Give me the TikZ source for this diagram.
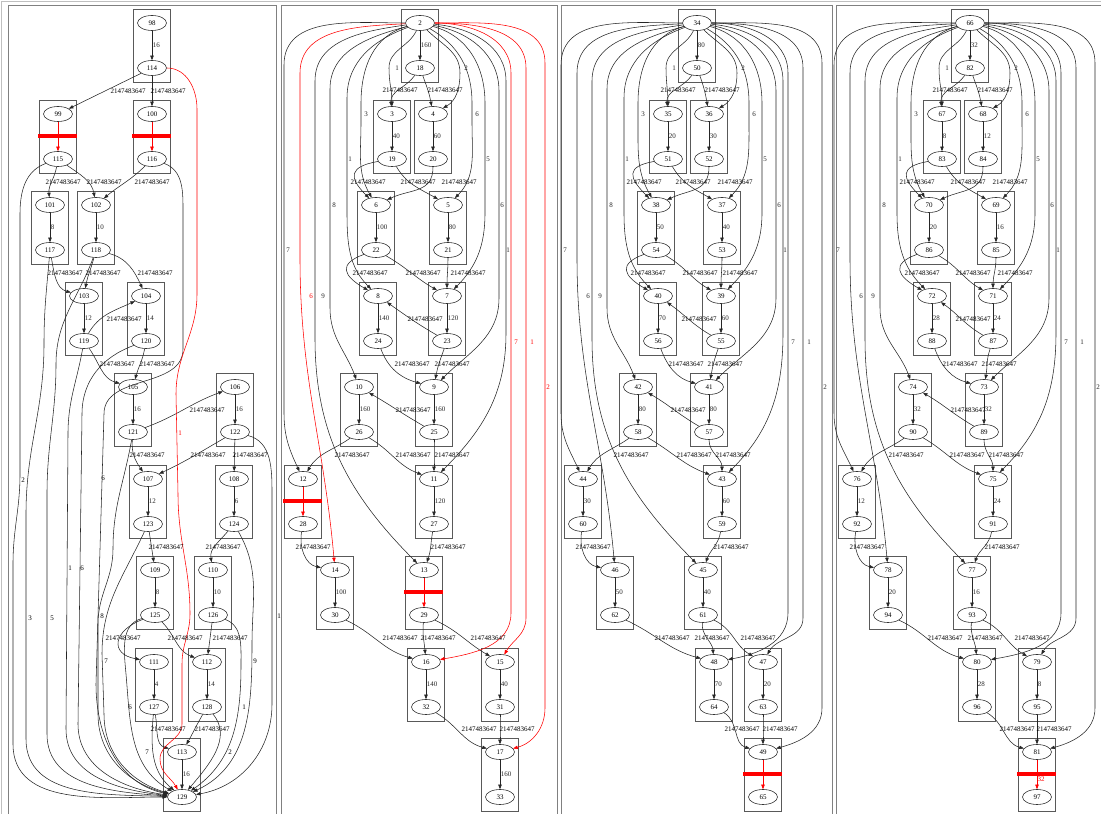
\documentclass[tikz,border=0pt]{standalone}
\usepackage{fontspec}
\setmainfont{Liberation Serif}
\usetikzlibrary{arrows.meta,shapes.geometric}
\colorlet{ec}{black!85}
\tikzset{
  >={Triangle[length=4.5pt,width=3.4pt]},
  gouter/.style={draw=black!25, line width=0.8pt},
  gframe/.style={draw=black!50, line width=0.8pt},
  gclus/.style={draw=black!65, line width=0.8pt, minimum width=37pt,
                minimum height=73pt, inner sep=0pt},
  gnode/.style={ellipse, draw=black!80, line width=0.6pt, minimum width=29pt,
                minimum height=15pt, inner sep=0pt, font=\fontsize{7}{8}\selectfont},
  glbl/.style={inner sep=0pt, font=\fontsize{7}{8}\selectfont},
  gedge/.style={->, ec, line width=0.55pt},
  gcut/.style={->, red, line width=0.55pt},
  gbar/.style={red, line width=4pt},
}
\begin{document}
\begin{tikzpicture}[x=1pt,y=1pt]
  \useasboundingbox (0,0) rectangle (1101,814);

  % frames
  \draw[gouter] (1,-6) rectangle (1110,813);
  \foreach \l/\r in {8/276, 281/557, 561/832, 836/1110}
    \draw[gframe] (\l,-6) rectangle (\r,809);

  % clusters of two nodes
  \foreach \a/\b/\x/\y/\w in {98/114/152/791/16,
      101/117/50/609/8, 102/118/96/609/10, 103/119/84/518/12, 104/120/146/518/14,
      105/121/133/427/16, 106/122/235/427/16, 107/123/148/335/12, 108/124/234/335/6,
      109/125/155/244/8, 110/126/213/244/10, 111/127/154/152/4, 112/128/207/152/14,
      113/129/182/62/16,
      2/18/420/791/160, 3/19/392/700/40, 4/20/433/700/60, 6/22/376/609/100,
      5/21/448/609/80, 8/24/378/518/140, 7/23/447/518/120, 10/26/359/427/160,
      9/25/434/427/160, 11/27/434/335/120, 14/30/335/244/100, 16/32/426/152/140,
      15/31/500/152/40, 17/33/500/62/160,
      34/50/697/791/80, 35/51/668/700/20, 36/52/709/700/30, 38/54/656/609/50,
      37/53/722/609/40, 40/56/658/518/70, 39/55/721/518/60, 42/58/638/427/80,
      41/57/709/427/80, 44/60/583/335/30, 43/59/722/335/60, 46/62/615/244/50,
      45/61/703/244/40, 48/64/714/152/70, 47/63/763/152/20,
      66/82/970/791/32, 67/83/942/700/8, 68/84/983/700/12, 70/86/929/609/20,
      69/85/996/609/16, 72/88/932/518/28, 71/87/993/518/24, 74/90/913/427/32,
      73/89/984/427/32, 76/92/857/335/12, 75/91/993/335/24, 78/94/888/244/20,
      77/93/972/244/16, 80/96/977/152/28, 79/95/1037/152/8}{
    \node[gclus] (c\a) at (\x,\y-22.5) {};
    \node[gnode] (n\a) at (\x,\y) {\a};
    \node[gnode] (n\b) at (\x,\y-45) {\b};
    \draw[gedge] (n\a) -- node[glbl, right=0.5pt] (w\a) {\w} (n\b);
  }

  % clusters whose inner edge is cut
  \foreach \a/\b/\x/\y in {99/115/58/700, 100/116/152/700, 12/28/303/335,
      13/29/424/244, 49/65/763/62, 81/97/1037/62}{
    \node[gclus] (c\a) at (\x,\y-22.5) {};
    \node[gnode] (n\a) at (\x,\y) {\a};
    \node[gnode] (n\b) at (\x,\y-45) {\b};
    \draw[gcut] (n\a) -- (n\b);
  }

  % panel 1: inner edges
  \draw[gedge] (n114) -- (n99);
  \draw[gedge] (n114) -- (n100);
  \draw[gedge] (n115) to[out=-100,in=95] (n101);
  \draw[gedge] (n115) to[out=-35,in=100] (n102);
  \draw[gedge] (n116) to[out=-135,in=40] (n102);
  \draw[gedge] (n117) to[out=-80,in=165] (n103);
  \draw[gedge] (n118) to[out=-105,in=80] (n103);
  \draw[gedge] (n118) to[out=-15,in=115] (n104);
  \draw[gedge] (n119) to[out=60,in=205] (n104);
  \draw[gedge] (n119) to[out=-55,in=165] (n105);
  \draw[gedge] (n120) to[out=-100,in=75] (n105);
  \draw[gedge] (n121) to[out=20,in=200] (n106);
  \draw[gedge] (n121) to[out=-95,in=125] (n107);
  \draw[gedge] (n122) to[out=-150,in=25] (n107);
  \draw[gedge] (n122) -- (n108);
  \draw[gedge] (n123) -- (n109);
  \draw[gedge] (n124) to[out=-130,in=100] (n110);
  \draw[gedge] (n125) to[out=200,in=170,looseness=2] (n111);
  \draw[gedge] (n125) to[out=-45,in=160] (n112);
  \draw[gedge] (n126) -- (n112);
  \draw[gedge] (n127) to[out=-80,in=165] (n113);
  \draw[gedge] (n128) to[out=-120,in=60] (n113);

  % panel 1: edges into the sink
  \draw[gedge] (n115) to[out=200,in=90] (20,600) -- (20,340) to[out=-90,in=90] (13,250) -- (13,70) to[out=-90,in=180] (n129);
  \draw[gedge] (n117) to[out=-95,in=90] (44,470) to[out=-90,in=90] (26,300) -- (26,75) to[out=-90,in=178] (n129);
  \draw[gedge] (n118) to[out=-110,in=90] (56,450) to[out=-90,in=90] (47,320) -- (47,80) to[out=-90,in=176] (n129);
  \draw[gedge] (n119) to[out=-100,in=90] (68,380) -- (66,85) to[out=-90,in=174] (n129);
  \draw[gedge] (n120) to[out=200,in=90] (82,400) -- (78,90) to[out=-90,in=172] (n129);
  \draw[gedge] (n116) to[out=-20,in=90] (183,600) -- (183,465) to[out=-90,in=90] (104,400) -- (96,130) to[out=-90,in=168] (n129);
  \draw[gedge] (n121) to[out=-100,in=90] (113,265) to[out=-90,in=90] (98,190) -- (98,100) to[out=-90,in=166] (n129);
  \draw[gedge] (n123) to[out=-115,in=90] (102,160) -- (104,100) to[out=-90,in=164] (n129);
  \draw[gedge] (n125) to[out=195,in=95] (126,140) to[out=-85,in=150] (n129);
  \draw[gedge] (n127) to[out=-95,in=140] (n129);
  \draw[gedge] (n124) to[out=-60,in=90] (252,170) to[out=-90,in=25] (n129);
  \draw[gedge] (n126) to[out=-20,in=90] (241,150) to[out=-90,in=35] (n129);
  \draw[gedge] (n128) to[out=-50,in=50] (n129);
  \draw[gedge] (n122) to[out=-15,in=90] (272,320) -- (272,110) to[out=-90,in=10] (n129);
  \draw[gcut] (n114) to[out=0,in=90] (197,705) -- (197,520) to[out=-90,in=90] (176,420) -- (178,320)
      to[out=-90,in=90] (190,200) to[out=-90,in=90] (182,150) -- (182,90) to[out=-90,in=90] (160,55)
      to[out=-90,in=120] (n129);

  % panels 2-4 share one layout (node numbers shifted by 32)
  \foreach \off/\sx/\hc in {0/420/red, 32/697/ec, 64/970/ec}{
    \colorlet{cutc}{\hc}
    \pgfmathtruncatemacro\src{2+\off}
    \foreach \a/\b/\oa/\ia/\lo in {18/3/-125/95/1, 18/4/-70/100/1, 19/6/190/135/2,
        19/5/-60/150/1, 20/6/-90/25/1.2, 22/8/200/150/2, 22/7/-30/150/1, 21/7/-90/90/1,
        23/8/150/-35/1, 24/9/-70/165/1, 23/9/-110/80/1, 25/10/150/-30/1,
        26/12/-145/60/1, 26/11/-30/160/1, 25/11/-90/90/1, 28/14/-100/170/1,
        27/13/-100/70/1, 30/16/-25/165/1, 29/16/-95/95/1, 29/15/-25/150/1,
        32/17/-30/165/1, 31/17/-90/90/1}{
      \pgfmathtruncatemacro\u{\a+\off}
      \pgfmathtruncatemacro\v{\b+\off}
      \draw[gedge] (n\u) to[out=\oa,in=\ia,looseness=\lo] (n\v);
    }
    % edges out of the source, with their lanes
    \foreach \tg/\ox/\oy/\dn/\oa/\ia/\cl/\lx/\ly/\txt in {
        3/-31/-45/0/-115/90/ec/-23/746/1, 4/40/-50/0/-45/30/ec/46/746/2,
        6/-59/-80/20/195/120/ec/-54/700/3, 5/52/-80/20/-30/45/ec/57/700/6,
        8/-73/-75/115/200/135/ec/-70/655/1, 7/65/-80/110/-15/45/ec/68/655/5,
        10/-90/-66/219/195/110/ec/-86/609/8, 9/79/-68/207/-10/45/ec/82/609/6,
        12/-136/-42/348/180/115/ec/-132/564/7, 11/86/-58/252/-5/45/ec/88/564/1,
        14/-120/-50/185/183/95/cutc/-109/518/6, 13/-105/-58/257/188/135/ec/-97/518/9,
        16/91/-50/540/0/10/cutc/96/472/7, 15/106/-45/550/0/60/cutc/112/472/1,
        17/125/-40/645/0/15/cutc/128/427/2}{
      \pgfmathtruncatemacro\dst{\tg+\off}
      \draw[gedge, draw=\cl] (n\src) to[out=\oa,in=90] ++(\ox,\oy) -- ++(0,-\dn)
          to[out=-90,in=\ia] (n\dst);
      \node[glbl, text=\cl] (sl\dst) at (\sx+\lx,\ly) {\txt};
    }
  }

  % labels of the unbounded edges
  \foreach \x/\y [count=\i] in {128/723, 168/723, 63/632, 104/632, 152/632, 65/541,
      103/541, 155/541, 124/495, 117/450, 157/450, 207/404, 147/359, 208/359, 250/359,
      166/267, 223/267, 123/176, 185/176, 230/176, 168/85, 212/85}
    \node[glbl] (la\i) at (\x,\y) {2147483647};
  \foreach \x/\y [count=\i] in {400/724, 445/724, 368/632, 418/632, 459/632, 370/541,
      423/541, 468/541, 425/495, 412/450, 452/450, 413/404, 352/359, 413/359, 452/359,
      313/267, 448/267, 400/176, 438/176, 488/176, 479/85, 517/85}
    \node[glbl] (lb\i) at (\x,\y) {2147483647};
  \foreach \x/\y [count=\i] in {678/724, 722/724, 644/632, 693/632, 735/632, 648/541,
      700/541, 740/541, 699/495, 686/450, 725/450, 688/404, 631/359, 694/359, 733/359,
      593/267, 731/267, 672/176, 712/176, 758/176, 742/85, 780/85}
    \node[glbl] (lc\i) at (\x,\y) {2147483647};
  \foreach \x/\y [count=\i] in {950/724, 995/724, 917/632, 968/632, 1010/632, 922/541,
      973/541, 1015/541, 973/495, 960/450, 999/450, 968/404, 906/359, 967/359, 1006/359,
      867/267, 1002/267, 945/176, 985/176, 1032/176, 1017/85, 1054/85}
    \node[glbl] (ld\i) at (\x,\y) {2147483647};

  % labels of the sink edges in panel 1
  \foreach \x/\y/\txt [count=\i] in {23/334/2, 30/196/3, 52/196/5, 70/246/1, 82/246/6,
      103/336/6, 102/198/8, 106/153/7, 130/107/6, 147/62/7, 255/153/9, 244/107/1,
      230/62/2, 279/198/1}
    \node[glbl] (lk\i) at (\x,\y) {\txt};
  \node[glbl, text=red] (lk0) at (180,381) {1};
  \node[glbl, text=red] (cap81) at (1041,35) {32};

  % cut marks
  \foreach \x/\y in {58/700, 152/700, 303/335, 424/244, 763/62, 1037/62}
    \draw[gbar] (\x-20,\y-22) -- (\x+19,\y-22);

\end{tikzpicture}
\end{document}
